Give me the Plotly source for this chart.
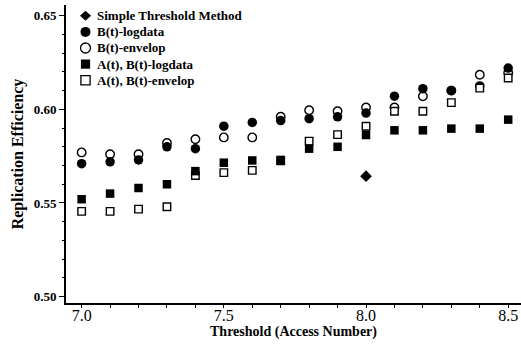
import plotly.graph_objects as go

# Threshold values (access number) on the x axis
thresholds = [7.0, 7.1, 7.2, 7.3, 7.4, 7.5, 7.6, 7.7, 7.8, 7.9, 8.0, 8.1, 8.2, 8.3, 8.4, 8.5]

# Replication efficiency for each method
b_logdata = [0.571, 0.572, 0.573, 0.580, 0.579, 0.591, 0.593, 0.594, 0.595, 0.596, 0.598,
             0.607, 0.611, 0.610, 0.6125, 0.622]
b_envelop = [0.577, 0.576, 0.576, 0.582, 0.584, 0.585, 0.585, 0.596, 0.5995, 0.599, 0.601,
             0.601, 0.607, 0.610, 0.6185, 0.6195]
a_b_logdata = [0.552, 0.555, 0.558, 0.560, 0.567, 0.5715, 0.5727, 0.573, 0.579, 0.580, 0.5863,
               0.5888, 0.5888, 0.5897, 0.5897, 0.5945]
a_b_envelop = [0.5455, 0.5455, 0.5467, 0.548, 0.5647, 0.5662, 0.5674, 0.5725, 0.583, 0.5865,
               0.591, 0.599, 0.599, 0.6036, 0.6113, 0.6167]
simple_x = [8.0]
simple_y = [0.5643]

# Legend entries in display order
legend_names = ["Simple Threshold Method", "B(t)-logdata", "B(t)-envelop",
                "A(t), B(t)-logdata", "A(t), B(t)-envelop"]

serif = "Liberation Serif"

# Marker style per series: (symbol, filled)
styles = {
    "Simple Threshold Method": ("diamond", True),
    "B(t)-logdata": ("circle", True),
    "B(t)-envelop": ("circle", False),
    "A(t), B(t)-logdata": ("square", True),
    "A(t), B(t)-envelop": ("square", False),
}
sizes = {"diamond": 9, "circle": 9.5, "square": 8.5}


def marker_for(name):
    symbol, filled = styles[name]
    if filled:
        return dict(symbol=symbol, size=sizes[symbol], color="black", line=dict(width=0))
    return dict(symbol=symbol, size=sizes[symbol] - 1, color="white",
                line=dict(color="black", width=1.4))


fig = go.Figure()

# Draw order: open markers beneath filled ones where they overlap
series = [
    ("B(t)-envelop", thresholds, b_envelop),
    ("B(t)-logdata", thresholds, b_logdata),
    ("A(t), B(t)-envelop", thresholds, a_b_envelop),
    ("A(t), B(t)-logdata", thresholds, a_b_logdata),
    ("Simple Threshold Method", simple_x, simple_y),
]
for name, xs, ys in series:
    fig.add_trace(go.Scatter(x=xs, y=ys, mode="markers", name=name,
                             marker=marker_for(name), showlegend=False))

# Compact legend: key symbols and bold labels stacked in the upper-left corner
plot_left, plot_top, plot_w, plot_h = 66, 5, 455, 298
key_px, text_px, row0_px, row_step = 85.5, 94.5, 15.8, 16.1
shapes, annotations = [], []
for i, name in enumerate(legend_names):
    symbol, filled = styles[name]
    ax = (key_px - plot_left) / plot_w
    ay = 1 - (row0_px + i * row_step - plot_top) / plot_h
    common = dict(xref="paper", yref="paper", xsizemode="pixel", ysizemode="pixel",
                  xanchor=ax, yanchor=ay,
                  fillcolor="black" if filled else "white",
                  line=dict(color="black", width=0 if filled else 1.3))
    if symbol == "diamond":
        shapes.append(dict(type="path", path="M 0 5 L 5.5 0 L 0 -5 L -5.5 0 Z", **common))
    elif symbol == "circle":
        shapes.append(dict(type="circle", x0=-5, x1=5, y0=-5, y1=5, **common))
    else:
        shapes.append(dict(type="rect", x0=-4.6, x1=4.6, y0=-4.6, y1=4.6, **common))
    annotations.append(dict(
        text=name, xref="paper", yref="paper",
        x=(text_px - plot_left) / plot_w, y=ay, xanchor="left", yanchor="middle",
        showarrow=False,
        font=dict(family=serif, size=13, weight="bold", color="black"),
    ))

fig.update_layout(
    width=521, height=347,
    margin=dict(l=66, r=0, t=5, b=44),
    paper_bgcolor="white", plot_bgcolor="white",
    font=dict(family=serif, color="black"),
    showlegend=False,
    shapes=shapes,
    annotations=annotations,
    xaxis=dict(
        range=[6.945, 8.545],
        showline=True, linecolor="black", linewidth=2,
        showgrid=False, zeroline=False,
        tickmode="array", tickvals=[7.0, 7.5, 8.0, 8.5], ticktext=["7.0", "7.5", "8.0", "8.5"],
        ticks="outside", ticklen=3, tickwidth=1, tickcolor="black",
        ticklabelstandoff=-6,
        minor=dict(dtick=0.1, tick0=7.0, ticks="outside", ticklen=3, tickwidth=1,
                   tickcolor="black", showgrid=False),
        tickfont=dict(family=serif, size=16, color="black"),
        title=dict(text="Threshold (Access Number)", standoff=0,
                   font=dict(family=serif, size=14, weight="bold", color="black")),
    ),
    yaxis=dict(
        range=[0.4966, 0.6557],
        showline=True, linecolor="black", linewidth=2,
        showgrid=False, zeroline=False,
        tickmode="array", tickvals=[0.50, 0.55, 0.60, 0.65],
        ticktext=["0.50", "0.55", "0.60", "0.65"],
        ticks="outside", ticklen=5, tickwidth=1, tickcolor="black",
        minor=dict(dtick=0.01, tick0=0.5, ticks="outside", ticklen=2, tickwidth=1,
                   tickcolor="black", showgrid=False),
        tickfont=dict(family=serif, size=13, weight="bold", color="black"),
        title=dict(text="Replication Efficiency", standoff=6,
                   font=dict(family=serif, size=16, weight="bold", color="black")),
    ),
)

fig.write_html("out.html")
